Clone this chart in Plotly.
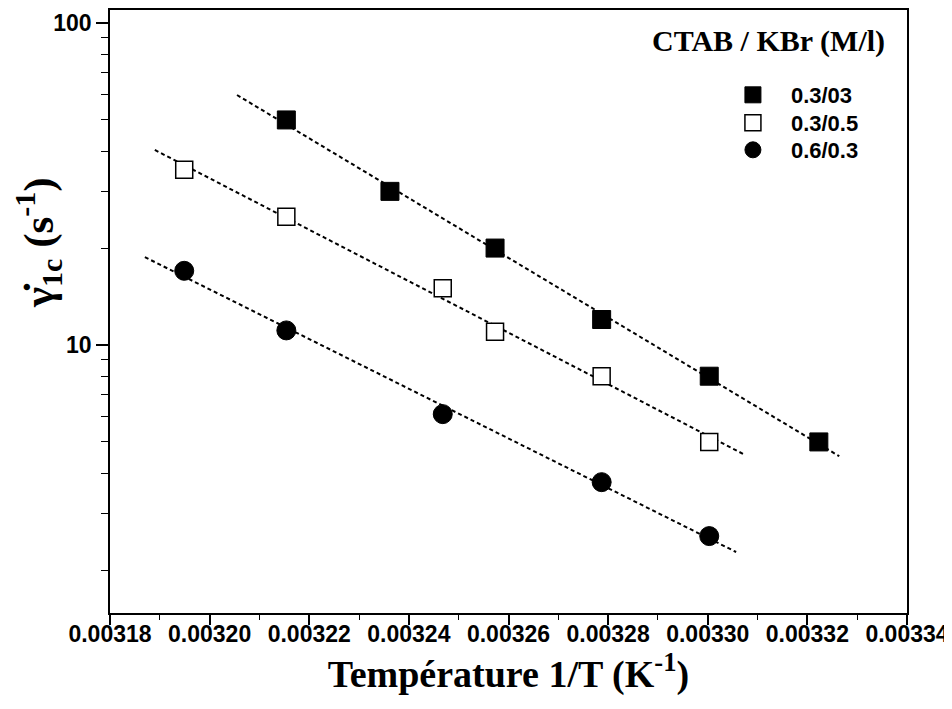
import numpy as np
import plotly.graph_objects as go

# Temperatures (1/T, K^-1) and critical shear rates (s^-1)
x_a = [0.0032154, 0.0032362, 0.0032573, 0.0032787, 0.0033003, 0.0033223]
y_a = [50, 30, 20, 12, 8, 5]
x_b = [0.0031949, 0.0032154, 0.0032468, 0.0032573, 0.0032787, 0.0033003]
y_b = [35, 25, 15, 11, 8, 5]
x_c = [0.0031949, 0.0032154, 0.0032468, 0.0032787, 0.0033003]
y_c = [17, 11.1, 6.1, 3.75, 2.55]

names = ["0.3/03", "0.3/0.5", "0.6/0.3"]
fit_extent = [[0.0032055, 0.0033264], [0.0031890, 0.0033073], [0.0031870, 0.0033057]]

series = [(x_a, y_a), (x_b, y_b), (x_c, y_c)]
marker_styles = [
    dict(symbol="square", color="black", size=18, line=dict(color="black", width=1)),
    dict(symbol="square", color="white", size=17, line=dict(color="black", width=1.5)),
    dict(symbol="circle", color="black", size=19, line=dict(color="black", width=1)),
]
legend_ids = ["legend", "legend2", "legend3"]
legend_rows = [0.859, 0.8126, 0.7678]

fig = go.Figure()
for (xs, ys), ext in zip(series, fit_extent):
    k, b = np.polyfit(np.array(xs), np.log10(np.array(ys)), 1)
    xf = np.array(ext)
    fig.add_trace(go.Scatter(x=xf, y=10 ** (k * xf + b), mode="lines",
                             line=dict(color="black", width=2, dash="4px,3px"),
                             showlegend=False, hoverinfo="skip"))
for (xs, ys), nm, ms, lg in zip(series, names, marker_styles, legend_ids):
    fig.add_trace(go.Scatter(x=xs, y=ys, mode="markers", name=nm, marker=ms, legend=lg))

legend_common = dict(x=0.759, xanchor="left", yanchor="middle",
                     bgcolor="rgba(0,0,0,0)", borderwidth=0,
                     font=dict(family="Liberation Sans", size=22, color="black", weight="bold"),
                     itemwidth=66)
legends = {lg: dict(legend_common, y=yr) for lg, yr in zip(legend_ids, legend_rows)}

tickfont = dict(family="Liberation Sans", size=23, color="black", weight="bold")
fig.update_layout(
    width=944, height=701,
    margin=dict(l=102, r=45, t=2, b=96),
    paper_bgcolor="white", plot_bgcolor="white",
    showlegend=True,
    **legends,
    xaxis=dict(range=[0.00318, 0.00334], dtick=0.00002, tick0=0.00318, tickformat=".5f",
               automargin=False,
               showgrid=False, zeroline=False, showline=True, linecolor="black", linewidth=1.5,
               mirror=True, ticks="outside", ticklen=10, tickwidth=1.5, tickcolor="black",
               tickfont=tickfont, ticklabelstandoff=-10,
               minor=dict(dtick=0.00001, tick0=0.00318, ticks="outside", ticklen=5,
                          tickwidth=1.2, tickcolor="black", showgrid=False),
               title=dict(text="Température 1/T (K<sup>-1</sup>)",
                          font=dict(family="Liberation Serif", size=38, color="black",
                                    weight="bold"),
                          standoff=9)),
    yaxis=dict(type="log", range=[0.1677, 2.0404],
               tickvals=[10, 100], ticktext=["10", "100"],
               automargin=False,
               showgrid=False, zeroline=False, showline=True, linecolor="black", linewidth=1.5,
               mirror=True, ticks="outside", ticklen=12, tickwidth=1.5, tickcolor="black",
               tickfont=tickfont,
               minor=dict(tickvals=[2, 3, 4, 5, 6, 7, 8, 9, 20, 30, 40, 50, 60, 70, 80, 90],
                          ticks="outside", ticklen=7, tickwidth=1.2, tickcolor="black",
                          showgrid=False)),
    annotations=[
        dict(text="γ̇<sub>1c</sub> (s<sup>-1</sup>)", xref="paper", yref="paper",
             x=-0.089, y=0.6136, xanchor="center", yanchor="middle", textangle=-90,
             showarrow=False,
             font=dict(family="Liberation Serif", size=43, color="black", weight="bold")),
        dict(text="CTAB / KBr (M/l)", xref="paper", yref="paper",
             x=0.975, y=0.9486, xanchor="right", yanchor="middle",
             showarrow=False,
             font=dict(family="Liberation Serif", size=30, color="black", weight="bold")),
    ],
)
fig.write_html("out.html")
